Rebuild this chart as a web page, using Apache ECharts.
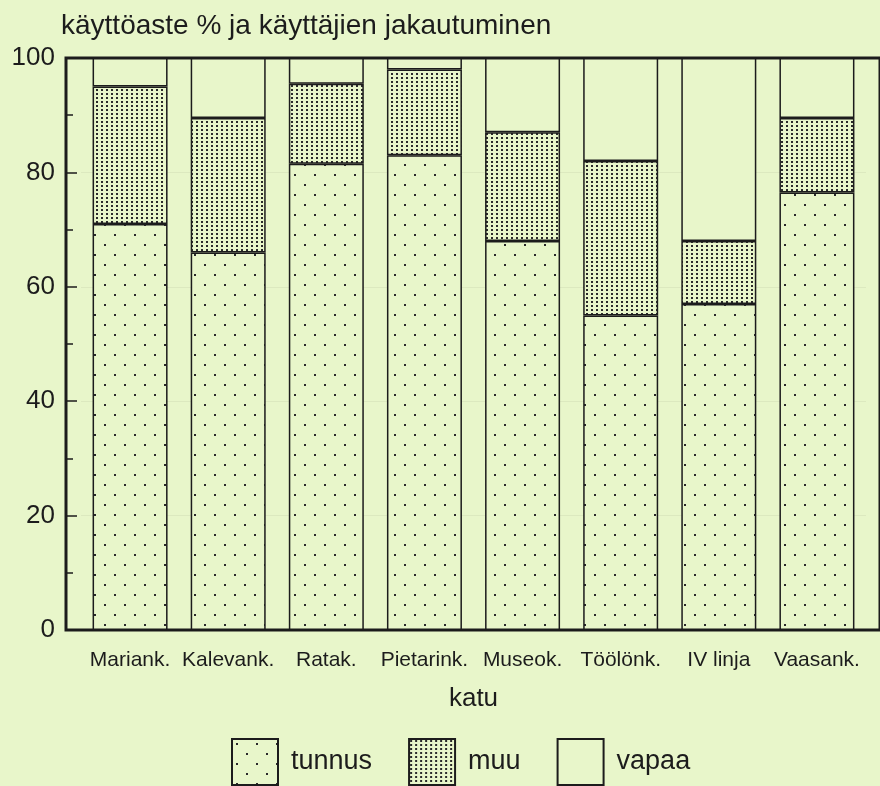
<!DOCTYPE html>
<html>
<head>
<meta charset="utf-8">
<script src="https://cdn.jsdelivr.net/npm/echarts@6/dist/echarts.min.js"></script>
<style>
  html, body { margin: 0; padding: 0; background: #e8f6ca; }
  #chart { width: 880px; height: 786px; }
</style>
</head>
<body>
<div id="chart"></div>
<script>
// kadut
var streets = ['Mariank.', 'Kalevank.', 'Ratak.', 'Pietarink.', 'Museok.', 'Töölönk.', 'IV linja', 'Vaasank.'];
// käyttöaste %, osuudet
var tunnus = [71, 66, 81.5, 83, 68, 55, 57, 76.5];
var muu = [24, 23.5, 14, 15, 19, 27, 11, 13];
var vapaa = [5, 10.5, 4.5, 2, 13, 18, 32, 10.5];
var yTicks = [0, 20, 40, 60, 80, 100];

var BG = '#e8f6ca';
var INK = '#1c1c1c';

// pistekuviot
function dotPattern(w, h, dots, size) {
    var c = document.createElement('canvas');
    c.width = w;
    c.height = h;
    var ctx = c.getContext('2d');
    ctx.fillStyle = BG;
    ctx.fillRect(0, 0, w, h);
    ctx.fillStyle = '#2a2a2a';
    dots.forEach(function (d) {
        ctx.fillRect(d[0], d[1], size, size);
    });
    return { image: c, repeat: 'repeat' };
}

var sparse = dotPattern(20, 20, [[4, 4], [14, 14]], 2);
var dense = dotPattern(5, 4, [[1, 1]], 2);

var chart = echarts.init(document.getElementById('chart'));

var barStyle = function (fill) {
    return {
        color: fill,
        borderColor: INK,
        borderWidth: 1.5
    };
};

var option = {
    backgroundColor: BG,
    animation: false,
    textStyle: { fontFamily: 'Liberation Sans', color: INK },
    title: {
        text: 'käyttöaste % ja käyttäjien jakautuminen',
        left: 56,
        top: 7,
        textStyle: {
            fontFamily: 'Liberation Sans',
            fontSize: 28,
            fontWeight: 'normal',
            color: INK
        }
    },
    legend: {
        left: 226,
        top: 733,
        itemWidth: 46,
        itemHeight: 46,
        itemGap: 36,
        icon: 'rect',
        textStyle: {
            fontSize: 27,
            color: INK,
            padding: [0, 0, 0, 8]
        },
        data: ['tunnus', 'muu', 'vapaa']
    },
    grid: [
        // kehys
        {
            left: 66, right: -6, top: 58, bottom: 156,
            show: true,
            borderColor: INK,
            borderWidth: 3,
            backgroundColor: 'transparent'
        },
        // pylväät
        {
            left: 81, right: 14, top: 58, bottom: 156
        }
    ],
    xAxis: [
        { gridIndex: 0, type: 'value', show: false, min: 0, max: 1 },
        {
            gridIndex: 1,
            type: 'category',
            data: streets,
            axisLine: { show: false },
            axisTick: { show: false },
            axisLabel: {
                fontSize: 21,
                color: INK,
                margin: 20,
                interval: 0
            },
            name: 'katu',
            nameLocation: 'middle',
            nameGap: 56,
            nameTextStyle: { fontSize: 26, color: INK }
        }
    ],
    yAxis: [
        { gridIndex: 0, type: 'value', show: false, min: 0, max: 1 },
        {
            gridIndex: 1,
            type: 'value',
            min: yTicks[0],
            max: yTicks[yTicks.length - 1],
            interval: 20,
            offset: 15,
            axisLine: { show: false },
            axisTick: {
                show: true,
                inside: true,
                length: 11,
                lineStyle: { color: INK, width: 1.5 }
            },
            minorTick: {
                show: true,
                splitNumber: 2,
                length: 7,
                lineStyle: { color: INK, width: 1.5 }
            },
            splitLine: {
                show: true,
                lineStyle: { color: 'rgba(0,0,0,0.05)', width: 1 }
            },
            axisLabel: {
                fontSize: 26,
                color: INK,
                margin: 11
            }
        }
    ],
    series: [
        {
            name: 'tunnus',
            type: 'bar',
            stack: 'total',
            xAxisIndex: 1,
            yAxisIndex: 1,
            barWidth: 75,
            data: tunnus,
            itemStyle: barStyle(sparse)
        },
        {
            name: 'muu',
            type: 'bar',
            stack: 'total',
            xAxisIndex: 1,
            yAxisIndex: 1,
            barWidth: 75,
            data: muu,
            itemStyle: barStyle(dense)
        },
        {
            name: 'vapaa',
            type: 'bar',
            stack: 'total',
            xAxisIndex: 1,
            yAxisIndex: 1,
            barWidth: 75,
            data: vapaa,
            itemStyle: barStyle(BG)
        }
    ]
};

chart.setOption(option);
</script>
</body>
</html>
